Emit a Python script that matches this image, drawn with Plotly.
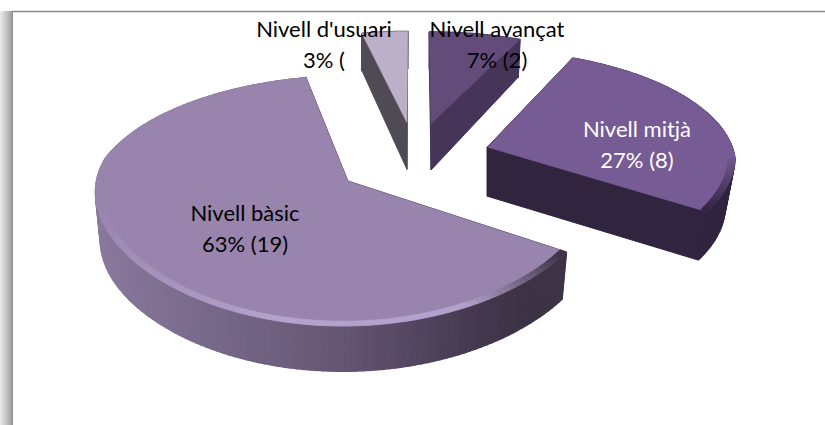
import math
import plotly.graph_objects as go

# ---- data ----
categories = ["Nivell avançat", "Nivell mitjà", "Nivell bàsic", "Nivell d'usuari"]
counts = [2, 8, 19, 1]
value_labels = ["7% (2)", "27% (8)", "63% (19)", "3% ("]

# ---- styling / layout constants ----
explode = [0.325, 0.31, 0.33, 0.325]
taper = [0.02, 0.04, 0.02, 0.0]
top_colors = ["#634c7a", "#765b94", "#9984ae", "#bcb0c9"]
face_colors = ["#463558", "#30243f", "#3d3347", "#4f4a54"]
text_colors = ["#000000", "#ffffff", "#000000", "#000000"]
label_xy = [(497, 31), (637, 131), (245, 215), (324, 31)]
LINE_GAP = 31
CX, CY, R, RY = 415, 158, 248, 115
KY = 0.153


def hex2rgb(c):
    return tuple(int(c[i:i + 2], 16) for i in (1, 3, 5))


def mix(a, b, t):
    t = max(0.0, min(1.0, t))
    ra, rb = hex2rgb(a), hex2rgb(b)
    return "#%02x%02x%02x" % tuple(round(ra[i] + (rb[i] - ra[i]) * t) for i in range(3))


def project(X, Z):
    kx = 0.07 if Z > 0 else 0.13
    return CX + R * X / (1 - kx * Z), CY + RY * Z / (1 - KY * Z)


def depth(Z):
    return 50 - 4 * Z if Z > 0 else 50 + 10 * Z


def plane(a, r, e, mid):
    t, m = math.radians(a + 2.5 * math.sin(math.radians(a))), math.radians(mid)
    return r * math.sin(t) + e * math.sin(m), -r * math.cos(t) - e * math.cos(m)


fig = go.Figure()


def poly(pts, color, lw=1.0):
    xs = [p[0] for p in pts] + [pts[0][0]]
    ys = [p[1] for p in pts] + [pts[0][1]]
    fig.add_trace(go.Scatter(x=xs, y=ys, mode="lines", fill="toself", fillcolor=color,
                             line=dict(color=color, width=lw), hoverinfo="skip", showlegend=False))


def main_side(x):
    stops = [(92, "#8a7a9e"), (200, "#786a8a"), (340, "#655674"), (470, "#453a50"), (520, "#3d3347"), (575, "#3d3347")]
    for (x0, c0), (x1, c1) in zip(stops, stops[1:]):
        if x <= x1:
            return mix(c0, c1, (x - x0) / (x1 - x0))
    return stops[-1][1]


total = sum(counts)
angles = [0]
for v in counts:
    angles.append(angles[-1] + 360 * v / total)

# back to front: usuari, avançat, mitjà, bàsic
for i in [3, 0, 1, 2]:
    a0, a1 = angles[i], angles[i + 1]
    mid = (a0 + a1) / 2
    e = explode[i]
    n = max(4, int((a1 - a0) / 1.5))
    steps = [a0 + (a1 - a0) * k / n for k in range(n + 1)]
    rim = [plane(a, 1, e, mid) for a in steps]
    inner = [plane(a, 0.972, e, mid) for a in steps]
    apex = plane(a0, 0, e, mid)
    apex_p = project(*apex)
    apex_b = (apex_p[0], apex_p[1] + depth(apex[1]))


    def lower(rr):
        p = project(*rr)
        return (p[0] - taper[i] * (p[0] - apex_p[0]), p[1] + depth(rr[1]))


    # outer wall, one strip per step
    for k in range(n):
        p0, p1 = project(*rim[k]), project(*rim[k + 1])
        q0, q1 = lower(rim[k]), lower(rim[k + 1])
        col = main_side((p0[0] + p1[0]) / 2) if i == 2 else face_colors[i]
        poly([p0, p1, q1, q0], col, 1.5)

    # radial faces
    for rr in (rim[0], rim[-1]):
        poly([apex_p, project(*rr), lower(rr), apex_b], face_colors[i])

    # top surface
    poly([apex_p] + [project(*r) for r in rim], top_colors[i], 0.5)

    # bevel along the rim
    if i in (1, 2):
        for k in range(n):
            a = (steps[k] + steps[k + 1]) / 2
            if i == 2:
                base = mix("#b5a4cd", "#9984ae", (a - 190) / 70) if a > 190 else "#b3a2cb"
                col = mix("#3d3347", base, (a - 122) / 30)
            else:
                col = mix("#765b94", "#30243f", (a - 92) / 28)
            poly([project(*inner[k]), project(*inner[k + 1]), project(*rim[k + 1]), project(*rim[k])], col, 0.8)

# labels
xs, ys, txt, cols = [], [], [], []
for (lx, ly), c, v, tc in zip(label_xy, categories, value_labels, text_colors):
    xs += [lx, lx]
    ys += [ly, ly + LINE_GAP]
    txt += [c, v]
    cols += [tc, tc]
fig.add_trace(go.Scatter(x=xs, y=ys, mode="text", text=txt, textposition="middle center",
                         textfont=dict(family="Lato, Carlito, sans-serif", size=22, color=cols),
                         hoverinfo="skip", showlegend=False))

# frame: top rule and left shadow band
shapes = [dict(type="line", xref="x", yref="y", x0=12, x1=825, y0=11.5, y1=11.5,
               line=dict(color="#8c8c8c", width=1.5), layer="below")]
band = ["#e8e8e8", "#e2e2e2", "#dcdcdc", "#d6d6d6", "#d0d0d0", "#cacaca", "#c4c4c4",
        "#bdbdbd", "#b6b6b6", "#afafaf", "#a8a8a8", "#a0a0a0", "#8c8c8c"]
for k, col in enumerate(band):
    shapes.append(dict(type="rect", xref="x", yref="y", x0=k, x1=k + 1, y0=11, y1=425,
                       fillcolor=col, line=dict(width=0), layer="below"))

fig.update_layout(width=825, height=425, margin=dict(l=0, r=0, t=0, b=0),
                  paper_bgcolor="white", plot_bgcolor="white", showlegend=False, shapes=shapes,
                  xaxis=dict(range=[0, 825], visible=False, fixedrange=True),
                  yaxis=dict(range=[425, 0], visible=False, fixedrange=True))
fig.write_html("out.html", config={"displayModeBar": False, "staticPlot": True},
               post_script="document.body.style.margin='0';")
